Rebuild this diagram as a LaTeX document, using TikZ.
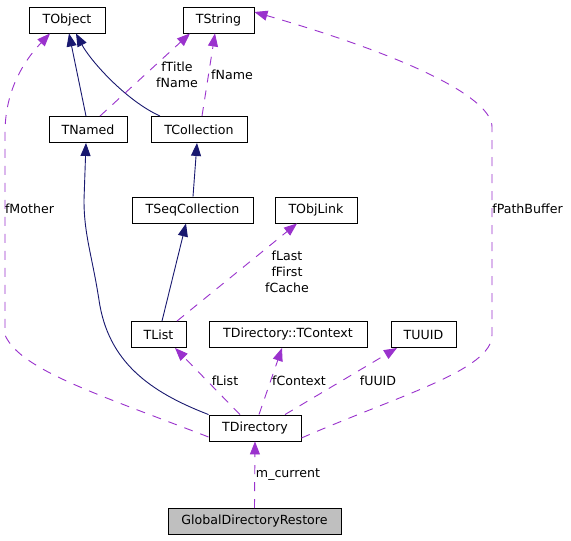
\documentclass[tikz,border=0pt]{standalone}
\usepackage{fontspec}
\setmainfont{DejaVu Sans}
\usetikzlibrary{arrows.meta,calc}
\definecolor{navyedge}{RGB}{25,25,112}
\definecolor{purpedge}{RGB}{154,50,205}
\definecolor{gdrfill}{RGB}{191,191,191}
\begin{document}
\begin{tikzpicture}[x=1pt,y=-1pt,
  every node/.style={font=\fontsize{12.6}{16}\selectfont},
  cls/.style={draw=black,line width=0.9pt,inner sep=0pt,minimum height=26pt,anchor=center},
  lbl/.style={inner sep=0pt,align=center},
  inh/.style={draw=navyedge,line width=0.9pt,-{Triangle[length=13pt,width=10pt]},fill=none},
  use/.style={draw=purpedge,line width=0.9pt,dash pattern=on 9pt off 8pt,-{Triangle[length=13pt,width=10pt]}},
]
\useasboundingbox (0,0) rectangle (571,541);
\fill[white] (0,0) rectangle (571,541);
% nodes
\node[cls,minimum width=76pt] (TObject) at (67,20) {TObject};
\node[cls,minimum width=71pt] (TString) at (218.5,20) {TString};
\node[cls,minimum width=78pt] (TNamed) at (88,129.5) {TNamed};
\node[cls,minimum width=96pt] (TCollection) at (199,129.5) {TCollection};
\node[cls,minimum width=121pt] (TSeqCollection) at (192.5,210) {TSeqCollection};
\node[cls,minimum width=82pt] (TObjLink) at (316,210) {TObjLink};
\node[cls,minimum width=55pt] (TList) at (158.5,334.5) {TList};
\node[cls,minimum width=158pt] (TContext) at (288,334.5) {TDirectory::TContext};
\node[cls,minimum width=65pt] (TUUID) at (423.5,334.5) {TUUID};
\node[cls,minimum width=92pt] (TDirectory) at (255,428) {TDirectory};
\node[cls,minimum width=173pt,fill=gdrfill] (GDR) at (254.5,521.5) {GlobalDirectoryRestore};
% inheritance (solid navy)
\draw[inh] ([xshift=-2pt]TNamed.north) -- ([xshift=2pt]TObject.south);
\draw[inh] ([xshift=-39pt]TCollection.north) .. controls (125,100) and (90,60) .. ([xshift=9pt]TObject.south);
\draw[inh] ([xshift=0.5pt]TSeqCollection.north) -- ([xshift=-2pt]TCollection.south);
\draw[inh] ([xshift=3.5pt]TList.north) -- ([xshift=-6.5pt]TSeqCollection.south);
\draw[inh] (TDirectory.north west) .. controls (150,392) and (108,362) .. (99,300)
  .. controls (92,255) and (84,235) .. (84,200) -- ([xshift=-2pt]TNamed.south);
% usage (dashed purple)
\draw[use] ([xshift=12pt]TNamed.north) -- ([xshift=-28.5pt]TString.south);
\draw[use] ([xshift=3pt]TCollection.north) -- ([xshift=-3.5pt]TString.south);
\draw[use] ([xshift=18.5pt]TList.north) -- ([xshift=-19pt]TObjLink.south);
\draw[use] ([yshift=-9pt]TDirectory.west) .. controls (100,395) and (20,370) .. (5,335)
  -- (5,133) .. controls (5,95) and (20,65) .. ([xshift=-17pt]TObject.south);
\draw[use] ([yshift=-10pt]TDirectory.east) .. controls (400,395) and (492,370) .. (492,335)
  -- (492,127) .. controls (492,100) and (420,60) .. ([yshift=8pt]TString.east);
\draw[use] ([xshift=-15pt]TDirectory.north) -- ([xshift=16.5pt]TList.south);
\draw[use] ([xshift=4pt]TDirectory.north) -- ([xshift=-6pt]TContext.south);
\draw[use] ([xshift=30pt]TDirectory.north) -- ([xshift=-26.5pt]TUUID.south);
\draw[use] (GDR.north) -- (TDirectory.south);
% labels
\node[lbl] (lTitle) at (177,75) {fTitle\\fName};
\node[lbl] (lName) at (232,75) {fName};
\node[lbl] (lMother) at (29.5,209) {fMother};
\node[lbl] (lPath) at (527.5,209) {fPathBuffer};
\node[lbl] (lLink) at (287,271.5) {fLast\\fFirst\\fCache};
\node[lbl] (lList) at (225,381) {fList};
\node[lbl] (lCtx) at (299,381) {fContext};
\node[lbl] (lUUID) at (378,381) {fUUID};
\node[lbl] (lCur) at (288,475) {m\_current};
\end{tikzpicture}
\end{document}
